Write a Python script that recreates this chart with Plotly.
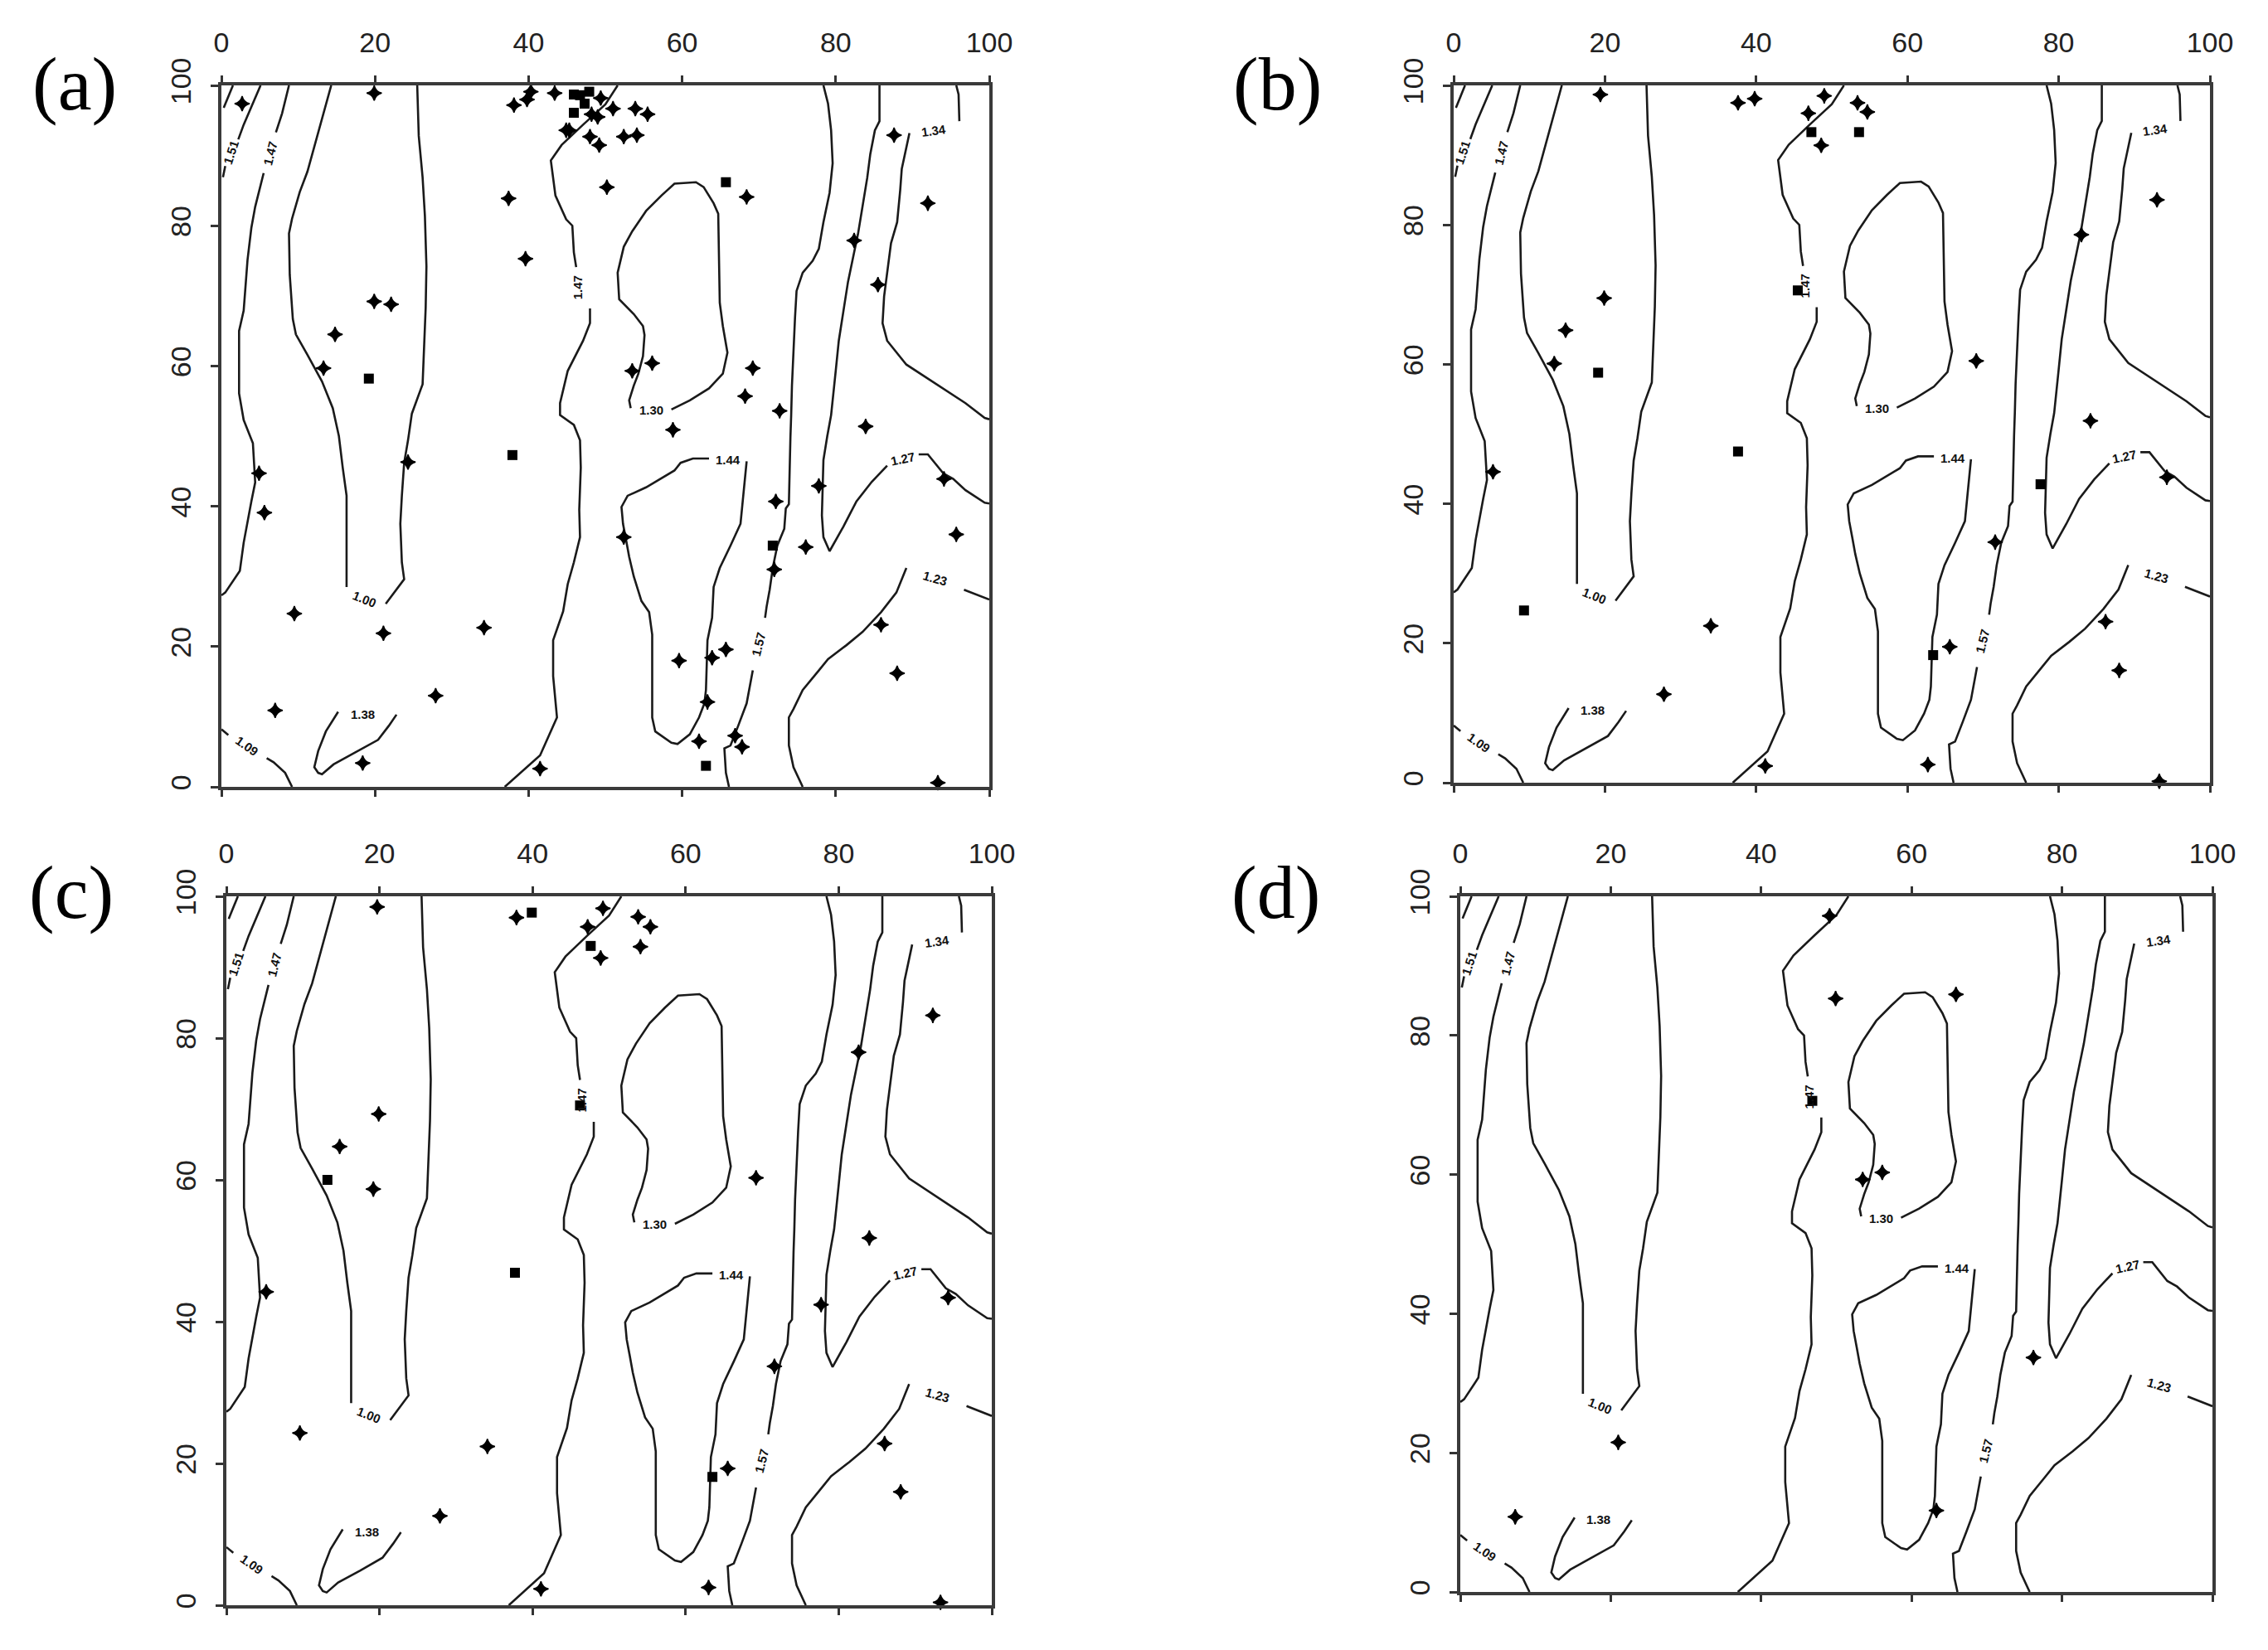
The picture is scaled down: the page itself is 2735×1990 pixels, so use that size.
import plotly.graph_objects as go

W, H = 2735, 1990
OFF = 8  # page body margin

ticks = [0, 20, 40, 60, 80, 100]
panel_names = ["(a)", "(b)", "(c)", "(d)"]

line1_x = [1.5, 0.9, 0.3]
line1_y = [100, 98.4, 96.8]
line2_x = [5.1, 2.9, 2.2, None, 0.5, 0.2]
line2_y = [100, 94.4, 92.3, None, 88.5, 86.9]
line3_x = [8.8, 7.9, 7.1, None, 5.5, 4.4, 3.9, 3.4, 2.9, 2.3, 2.3, 2.9, 4.1, 4.4, 3.9, 3.4, 2.9, 2.4, 0.5, 0]
line3_y = [100, 96, 93.3, None, 87.5, 82.7, 79.7, 75.1, 67.9, 65, 56.1, 52.3, 49, 43.4, 40.7, 37.5, 34.8, 30.8, 27.7, 27.3]
line4_x = [14.3, 13.1, 12.1, 11.2, 10.2, 9.2, 8.8, 8.9, 9.3, 9.7, 11.2, 13.1, 14.5, 15.3, 15.8, 16.3, 16.3, 16.3, None,
           21.4, 23.3, 23.8, 23.5, 23.3, 23.5, 23.8, 24.3, 24.8, 26.2, 26.6, 26.7, 26.5, 26.2, 25.7, 25.5]
line4_y = [100, 95.3, 91.1, 87.7, 84.8, 81, 78.9, 73, 66.7, 64.5, 61.6, 57.8, 54, 50, 45.5, 41.5, 34.4, 28.5, None,
           26.1, 28.9, 29.6, 32, 37.5, 41.5, 46.2, 49.4, 53.2, 57.4, 68.3, 74.2, 81.4, 86.9, 92.8, 100]
line5_x = [51.6, 50, 47.1, 44.3, 42.9, 43.5, 44.9, 45.7, 45.9, 46.2, None, 48, 48, 47.1, 45.1, 44.1, 44.1, 45.9, 46.7,
           46.8, 46.6, 46.7, 45.9, 45.1, 44.5, 43.2, 43.2, 43.7, 41.5, 36.9]
line5_y = [100, 97.3, 94.4, 91.5, 89.3, 84.3, 80.9, 80, 76.2, 74.1, None, 68.2, 66.1, 63.6, 59.3, 54.7, 53, 51.6, 49.4,
           45.5, 39.5, 35.6, 32, 28.9, 25, 20.9, 15.8, 9.9, 4.5, 0]
line6_x = [58.6, 61, 63.5, 65.3, 65.9, 65.3, 64.9, 64.7, 64.1, 62.8, 61.8, 59, 57.3, 55.3, 53.5, 52.4, 51.6, 51.8, 53.7,
           54.9, 55.1, 54.9, 54.3, 53.7, 53.1, 53.3]
line6_y = [53.8, 55.1, 56.8, 58.9, 61.9, 65.7, 69, 81.7, 83.2, 85.5, 86.2, 86, 84.3, 82.1, 79.2, 77, 73.3, 69.5, 67.4,
           65.7, 64.4, 61.4, 58.9, 57.2, 55.1, 54]
line7_x = [68.4, 68.2, 67.8, 67.6, 66.3, 64.9, 64.1, 63.9, 63.3, 63.1, 62.9, 62.2, 61, 59.4, 58.6, 56.5, 56.1, 56.1,
           55.7, 54.7, 53.7, 53.1, 52.7, 52.3, 52.1, 52.9, 55.3, 59, 59.8, 61.4, 63.5]
line7_y = [46.4, 44.3, 40.3, 37.5, 34.4, 31.2, 28.5, 24.1, 20.9, 13.8, 11.9, 9.9, 7.5, 6.1, 6.3, 7.9, 9.9, 21.7,
           24.9, 26.5, 30, 32.8, 35.2, 37.5, 39.9, 41.5, 42.7, 45.1, 46.2, 46.8, 46.8]
line8_x = [78.4, 79, 79.4, 79.6, 79.2, 78.4, 77.8, 77, 75.7, 74.9, 74.7, 74.5, 74.3, 74.2, 74.1, 73.9, 73.5, 73.3,
           72.4, 71.8, 71.4, 71, 70.8, None, 69.2, 68.4, 67.3, 66.3, 65.5, 65.7, 66.1]
line8_y = [100, 97.4, 93.6, 88.9, 84.7, 80.5, 76.7, 75, 73.3, 70.7, 66.9, 62.7, 57.2, 53, 49.8, 40.3, 39.7, 36.8,
           34.4, 31.2, 28.1, 25.7, 24.1, None, 16.6, 11.9, 8.7, 5.9, 5.5, 2, 0]
line9_x = [85.7, 85.7, 85.1, 84.5, 84.1, 83.5, 82.9, 82.4, 81.6, 81, 80.4, 80, 79.4, 78.9, 78.4, 78.2, 78.4, 79.2,
           79.8, 81, 82.7, 84.7, 86.7, None, 90.8, 92, 94, 95.3, 96.9, 99.4, 100]
line9_y = [100, 94.9, 93.6, 90.2, 86.8, 82.6, 78.8, 76.2, 72, 67.8, 63.6, 59.3, 53, 50, 46.6, 38.7, 35.6, 33.6,
           34.8, 37.1, 40.7, 43.5, 45.8, None, 47.4, 47.4, 44.7, 43.9, 42.3, 40.5, 40.4]
line10_x = [95.7, 96, 96.1, None, 89.6, 89.2, 88.6, 88.4, 88, 87.2, 86.7, 86.3, 86.1, 86.7, 89.2, 91.6, 94.5, 96.9,
            99.4, 100]
line10_y = [100, 98.7, 94.9, None, 93.2, 91.1, 88.1, 85.1, 80.5, 77.5, 73.3, 69.9, 66.1, 63.6, 60.2, 58.5, 56.4, 54.7,
            52.6, 52.4]
line11_x = [75.7, 74.5, 73.9, 73.9, 74.5, 75.7, 77.8, 79, 81.4, 83.5, 85.9, 87.9, 89.2, None, 96.7, 99.4, 100]
line11_y = [0, 2.8, 5.9, 9.9, 11.1, 13.8, 16.6, 18.2, 20.2, 22.1, 24.9, 27.7, 31.2, None, 28.1, 26.9, 26.7]
line12_x = [0, 0.9, None, 5.9, 6.8, 8.3, 9.2]
line12_y = [8.2, 7.4, None, 4.1, 3.5, 2, 0]
line13_x = [15.2, 13.6, 12.6, 12.1, 12.6, 13.1, 14.6, 17.5, 20.4, 21.8, 22.8]
line13_y = [10.7, 7.9, 5.1, 2.8, 2, 1.8, 3.2, 4.9, 6.7, 8.7, 10.3]

contours = [(line1_x, line1_y), (line2_x, line2_y), (line3_x, line3_y), (line4_x, line4_y),
            (line5_x, line5_y), (line6_x, line6_y), (line7_x, line7_y), (line8_x, line8_y),
            (line9_x, line9_y), (line10_x, line10_y), (line11_x, line11_y), (line12_x, line12_y),
            (line13_x, line13_y)]

# contour labels
lab_text = ["1.51", "1.47", "1.00", "1.47", "1.30", "1.44", "1.57", "1.27", "1.34", "1.23", "1.09", "1.38"]
lab_x = [1.2, 6.3, 18.6, 46.4, 56.0, 66.0, 69.9, 88.7, 92.8, 92.9, 3.3, 18.4]
lab_y = [90.4, 90.3, 26.8, 71.2, 53.7, 46.6, 20.3, 46.8, 93.6, 29.7, 5.8, 10.4]
lab_rot = [-72, -76, 22, -90, 0, 0, -76, -12, -8, 16, 35, 0]

# sampled points per panel: stars and squares
a_star_x = [2.7, 19.9, 38.1, 39.8, 40.3, 43.4, 44.9, 37.4, 39.6, 19.9, 22.1, 14.8, 13.3, 24.3, 49.4, 51, 48.2, 49,
            53.9, 55.5, 45.3, 48, 49.2, 52.4, 54.1, 50.2, 68.4, 92, 82.4, 87.6, 85.5, 56.1, 53.5, 69.2, 68.2, 72.7,
            58.8, 83.9, 77.8, 72.2, 94.1, 95.7, 76.1, 72, 52.4, 85.9, 65.7, 63.9, 59.6, 88, 63.3, 66.9, 67.8, 62.2,
            93.3, 4.9, 5.6, 9.5, 21.1, 34.2, 27.9, 7, 18.4, 41.5]
a_star_y = [97.4, 98.9, 97.2, 98, 99.1, 98.9, 93.6, 83.9, 75.3, 69.2, 68.8, 64.5, 59.7, 46.3, 98.2, 96.7, 95.9, 95.5,
            96.7, 95.9, 93.6, 92.7, 91.5, 92.7, 92.9, 85.5, 84.1, 83.2, 77.9, 92.9, 71.6, 60.4, 59.3, 59.7, 55.7, 53.6,
            50.9, 51.4, 42.9, 40.7, 43.9, 36, 34.2, 31, 35.6, 23.1, 19.6, 18.4, 18, 16.2, 12.1, 7.3, 5.7, 6.5,
            0.6, 44.7, 39.1, 24.7, 21.9, 22.7, 13, 10.9, 3.4, 2.6]
a_sq_x = [45.9, 46.7, 47.9, 47.3, 45.9, 19.2, 37.9, 65.7, 71.8, 63.1]
a_sq_y = [98.7, 98.6, 99.1, 97.4, 96.1, 58.2, 47.3, 86.2, 34.4, 3]

b_star_x = [19.4, 37.6, 39.8, 49, 46.9, 54.7, 53.4, 48.6, 93, 83, 19.9, 14.8, 13.3, 69.1, 84.2, 5.2, 94.3, 71.6,
            34, 65.6, 86.2, 88, 27.8, 62.7, 41.2, 93.3]
b_star_y = [98.7, 97.5, 98.1, 98.5, 96, 96.2, 97.5, 91.4, 83.6, 78.6, 69.5, 64.9, 60.1, 60.5, 51.9, 44.6, 43.8, 34.5,
            22.5, 19.5, 23.1, 16.1, 12.7, 2.6, 2.4, 0.2]
b_sq_x = [53.6, 47.3, 45.5, 19.1, 37.6, 77.6, 9.3, 63.4]
b_sq_y = [93.3, 93.3, 70.6, 58.8, 47.5, 42.8, 24.7, 18.3]

c_star_x = [19.7, 37.9, 49.2, 47.2, 48.9, 19.9, 14.8, 19.2, 53.8, 55.4, 54.1, 92.3, 82.6, 69.2, 84, 5.2, 77.7, 94.3,
            71.6, 9.6, 34.1, 65.5, 86, 88.1, 27.9, 41.1, 63, 93.3]
c_star_y = [98.5, 97, 98.3, 95.7, 91.3, 69.3, 64.7, 58.7, 97.1, 95.7, 92.9, 83.2, 78, 60.3, 51.8, 44.2, 42.4, 43.4,
            33.7, 24.3, 22.4, 19.3, 22.8, 16, 12.6, 2.3, 2.5, 0.4]
c_sq_x = [39.9, 47.6, 46.2, 13.2, 37.7, 63.5]
c_sq_y = [97.7, 93, 70.5, 60, 46.9, 18.1]

d_star_x = [49.1, 49.9, 65.9, 53.5, 56.1, 21, 7.3, 63.3, 76.2]
d_star_y = [97.2, 85.3, 85.9, 59.3, 60.3, 21.5, 10.8, 11.7, 33.7]
d_sq_x = [46.8]
d_sq_y = [70.6]

stars = [(a_star_x, a_star_y), (b_star_x, b_star_y), (c_star_x, c_star_y), (d_star_x, d_star_y)]
squares = [(a_sq_x, a_sq_y), (b_sq_x, b_sq_y), (c_sq_x, c_sq_y), (d_sq_x, d_sq_y)]

# plot boxes in page pixels: x at 0, x at 100, y at 100 (top), y at 0 (bottom)
boxes = [(267, 1193, 103, 949), (1753, 2665, 103, 944), (273, 1196, 1081, 1936), (1761, 2668, 1081, 1920)]
name_pos = [(90, 101), (1540, 101), (86, 1076), (1538, 1076)]

FW, FH = W - OFF, H - OFF


def fx(p):
    return (p - OFF) / FW


def fy(p):
    return 1 - (p - OFF) / FH


fig = go.Figure()
layout = dict(width=FW, height=FH, margin=dict(l=0, r=0, t=0, b=0, pad=0), autosize=False,
              paper_bgcolor="white", plot_bgcolor="white", showlegend=False)
annotations = []

for i in range(4):
    n = "" if i == 0 else str(i + 1)
    xa, ya = "x" + n, "y" + n
    x0, x1, yt, yb = boxes[i]
    layout["xaxis" + n] = dict(domain=[fx(x0), fx(x1)], range=[0, 100], anchor=ya, side="top",
                               automargin=False,
                               tickvals=ticks, ticks="outside", ticklen=8, tickwidth=3, tickcolor="#333",
                               showline=True, linewidth=4, linecolor="#3a3a3a", mirror="ticks",
                               showgrid=False, zeroline=False, ticklabelstandoff=14,
                               tickfont=dict(family="Liberation Sans", size=34, color="#222"))
    layout["yaxis" + n] = dict(domain=[fy(yb), fy(yt)], range=[0, 100], anchor=xa, side="left",
                               automargin=False,
                               tickvals=ticks, ticks="outside", ticklen=9, tickwidth=3, tickcolor="#333",
                               showline=True, linewidth=4, linecolor="#3a3a3a", mirror=True,
                               showgrid=False, zeroline=False, tickangle=-90, ticklabelstandoff=10,
                               tickfont=dict(family="Liberation Sans", size=34, color="#222"))
    for cx, cy in contours:
        fig.add_trace(go.Scatter(x=cx, y=cy, mode="lines", xaxis=xa, yaxis=ya,
                                 line=dict(color="#1a1a1a", width=2.6), hoverinfo="skip"))
    sx, sy = stars[i]
    fig.add_trace(go.Scatter(x=sx, y=sy, mode="markers", xaxis=xa, yaxis=ya, cliponaxis=False,
                             marker=dict(symbol="star-diamond", size=13, color="black",
                                         line=dict(color="black", width=1.5))))
    qx, qy = squares[i]
    fig.add_trace(go.Scatter(x=qx, y=qy, mode="markers", xaxis=xa, yaxis=ya, cliponaxis=False,
                             marker=dict(symbol="square", size=12, color="black")))
    for t, lx, ly, r in zip(lab_text, lab_x, lab_y, lab_rot):
        annotations.append(dict(x=lx, y=ly, xref=xa, yref=ya, text="<b>" + t + "</b>", showarrow=False,
                                textangle=r, font=dict(family="Liberation Sans", size=15, color="#111")))
    px, py = name_pos[i]
    annotations.append(dict(x=fx(px), y=fy(py), xref="paper", yref="paper", text=panel_names[i],
                            showarrow=False, xanchor="center", yanchor="middle",
                            font=dict(family="Liberation Serif", size=92, color="black")))

layout["annotations"] = annotations
fig.update_layout(**layout)
fig.write_html("out.html")
